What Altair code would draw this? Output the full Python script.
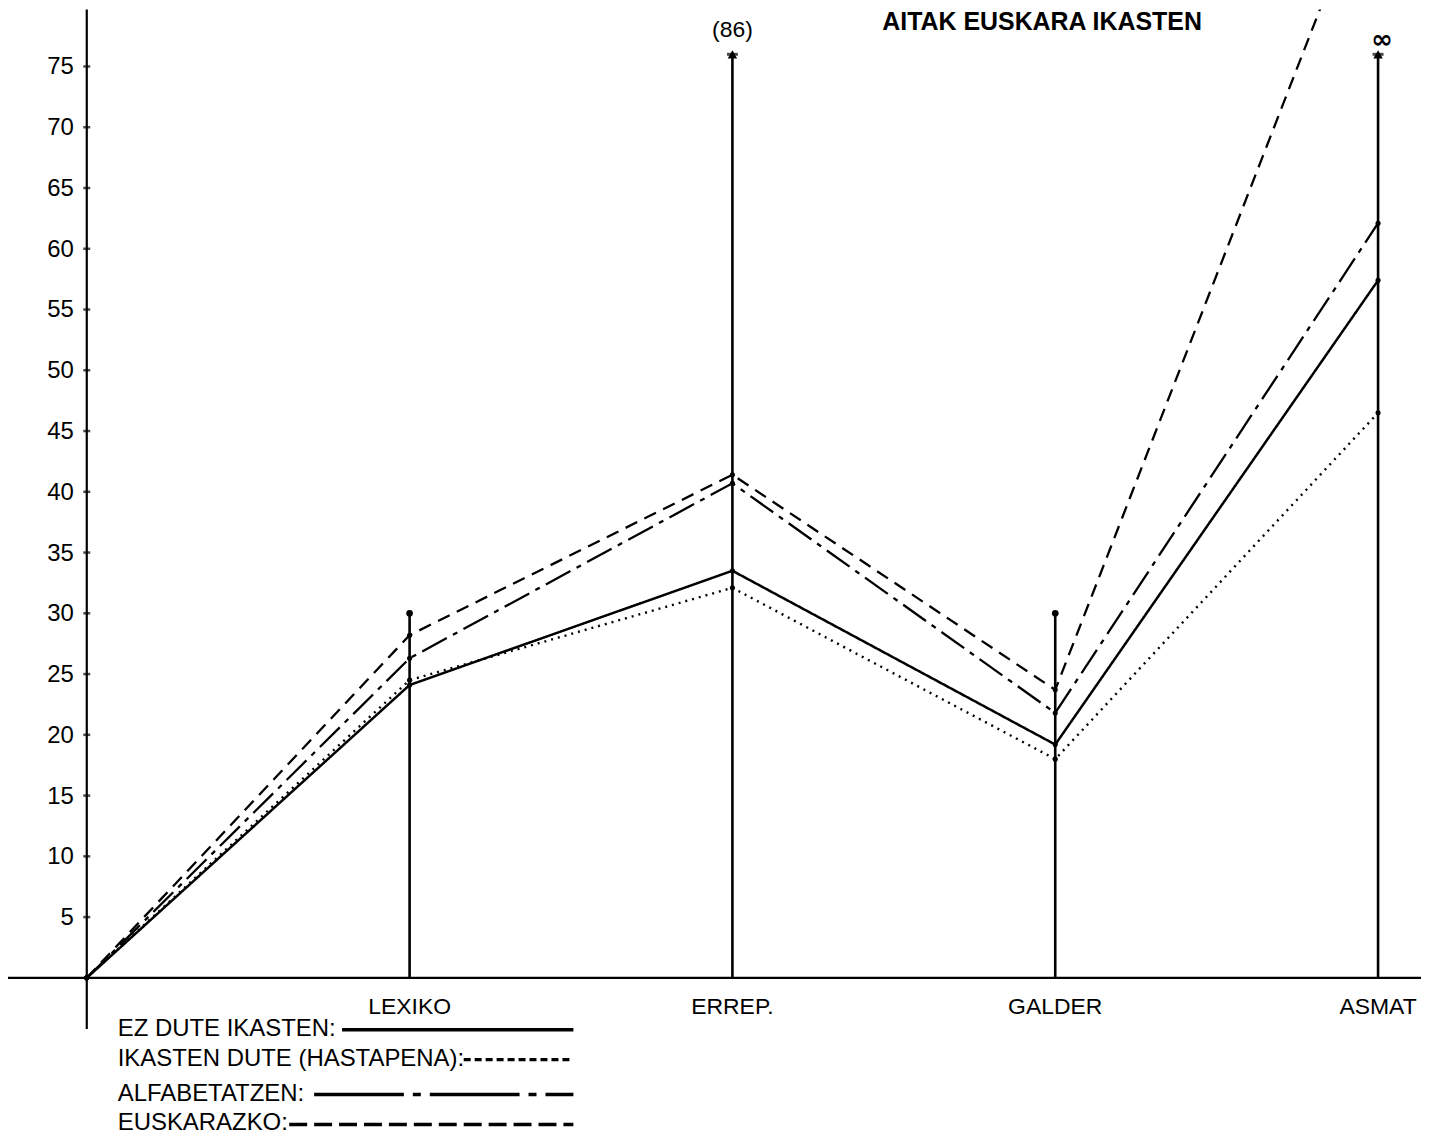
import altair as alt
import pandas as pd

# ---- data ----
categories = ["LEXIKO", "ERREP.", "GALDER", "ASMAT"]
cat_pos = [1, 2, 3, 4]
positions = [0, 1, 2, 3, 4]
ez_dute = [0, 24.1, 33.5, 19.2, 57.4]
hastapena = [0, 24.5, 32.1, 18.0, 46.5]
alfabetatzen = [0, 26.3, 40.7, 21.8, 62.1]
euskarazko = [0, 28.2, 41.4, 23.7, 92.0]
stem_tops = [30, 76, 30, 76]
y_ticks = [5, 10, 15, 20, 25, 30, 35, 40, 45, 50, 55, 60, 65, 70, 75]
top_labels = ["(86)", "∞"]
top_label_pos = [2, 4]
series_names = ["EZ DUTE IKASTEN:", "IKASTEN DUTE (HASTAPENA):", "ALFABETATZEN:", "EUSKARAZKO:"]
title_text = "AITAK EUSKARA IKASTEN"

FONT = "Liberation Sans"
W, H = 1417, 1132
xs = alt.Scale(domain=[-0.244, 4.133], nice=False, zero=False)
ys = alt.Scale(domain=[-13.21, 79.68], nice=False, zero=False)

def X(field="x"):
    return alt.X(f"{field}:Q", scale=xs, axis=None)

def Y(field="y"):
    return alt.Y(f"{field}:Q", scale=ys, axis=None)

# axes lines
axis_df = pd.DataFrame({"x": [0], "y": [-4.2], "y2": [79.68], "xa": [-0.244], "xb": [4.133], "z": [0]})
y_axis = alt.Chart(axis_df).mark_rule(color="black", strokeWidth=2.2).encode(
    x=X(), y=Y(), y2="y2:Q")
x_axis = alt.Chart(axis_df).mark_rule(color="black", strokeWidth=2.2).encode(
    x=X("xa"), x2="xb:Q", y=Y("z"))

tick_df = pd.DataFrame({"x": [0] * len(y_ticks), "y": y_ticks, "lab": [str(t) for t in y_ticks]})
y_tickmarks = alt.Chart(tick_df).mark_tick(orient="horizontal", size=7, thickness=2.5, color="black").encode(
    x=X(), y=Y())
y_labels = alt.Chart(tick_df).mark_text(align="right", baseline="middle", dx=-13, dy=1,
                                        font=FONT, fontSize=24, color="black").encode(
    x=X(), y=Y(), text="lab:N")

# category stems
stem_df = pd.DataFrame({"x": cat_pos, "y": [0] * 4, "y2": stem_tops, "cat": categories})
stems = alt.Chart(stem_df).mark_rule(color="black", strokeWidth=2.6).encode(
    x=X(), y=Y(), y2="y2:Q")
cat_labels = alt.Chart(stem_df).mark_text(align="center", baseline="middle", dy=29,
                                          font=FONT, fontSize=23, color="black").encode(
    x=X(), y=Y(), text="cat:N")
cap_df = stem_df[stem_df["y2"] < 50]
caps = alt.Chart(cap_df).mark_point(filled=True, shape="circle", size=45, color="black", opacity=1).encode(
    x=X(), y=Y("y2"))
arrow_df = stem_df[stem_df["y2"] > 50]
arrows = alt.Chart(arrow_df).mark_point(filled=True, shape="triangle-up", size=90, color="black", opacity=1).encode(
    x=X(), y=Y("y2"))
arrow_bars = alt.Chart(arrow_df).mark_tick(orient="horizontal", size=11, thickness=3, color="black").encode(
    x=X(), y=Y("y2"))

lab_df = pd.DataFrame({"x": top_label_pos, "y": [76, 76], "lab": top_labels})
top_lab1 = alt.Chart(lab_df.iloc[[0]]).mark_text(align="center", baseline="middle", dy=-24,
                                                 font=FONT, fontSize=23, color="black").encode(
    x=X(), y=Y(), text="lab:N")
top_lab2 = alt.Chart(lab_df.iloc[[1]]).mark_text(align="center", baseline="middle", dy=-14, dx=4,
                                                 font="DejaVu Sans", fontSize=26, fontWeight="bold",
                                                 color="black").encode(
    x=X(), y=Y(), text="lab:N")

# series lines
dashes = [[1, 0], [2, 5], [28, 7, 5, 7], [13, 8]]
widths = [2.5, 2.4, 2.3, 2.3]
series_vals = [ez_dute, hastapena, alfabetatzen, euskarazko]
line_layers = []
for name, vals, dash, w in zip(series_names, series_vals, dashes, widths):
    df = pd.DataFrame({"x": positions, "y": vals, "s": name})
    line_layers.append(alt.Chart(df).mark_line(color="black", strokeWidth=w, strokeDash=dash, clip=True).encode(
        x=X(), y=Y()))
    pts = df[df["y"] < 79]
    line_layers.append(alt.Chart(pts).mark_point(filled=True, size=26, color="black", opacity=1).encode(
        x=X(), y=Y()))

# legend (text + line samples)
leg_y = [1022, 1052, 1087, 1117]
leg_x1 = [335, 457, 307, 282]
leg_x2 = [567, 567, 567, 567]
leg_dash = [[1, 0], [7, 4], [90, 9, 8, 9], [18, 7]]
legend_layers = []
for name, ly, lx1, lx2, dash in zip(series_names, leg_y, leg_x1, leg_x2, leg_dash):
    d = pd.DataFrame({"t": [name]})
    legend_layers.append(alt.Chart(d).mark_text(align="left", baseline="middle", font=FONT, fontSize=24,
                                                color="black").encode(
        x=alt.value(110), y=alt.value(ly), text="t:N"))
    legend_layers.append(alt.Chart(d).mark_rule(color="black", strokeWidth=3.5, strokeDash=dash).encode(
        x=alt.value(lx1), x2=alt.value(lx2), y=alt.value(ly + 1)))

title = alt.Chart(pd.DataFrame({"t": [title_text]})).mark_text(
    align="center", baseline="top", font=FONT, fontSize=25, fontWeight="bold", color="black").encode(
    x=alt.value(1037), y=alt.value(0), text="t:N")

chart = alt.layer(
    y_axis, x_axis, y_tickmarks, y_labels, stems, cat_labels, caps, arrows, arrow_bars,
    top_lab1, top_lab2, *line_layers, *legend_layers, title
).properties(
    width=W, height=H, autosize=alt.AutoSizeParams(type="none"), padding=0
).configure(background="white", view=alt.ViewConfig(strokeWidth=0, stroke="transparent"))

chart.save("out.html", embed_options={"renderer": "svg", "actions": False})
